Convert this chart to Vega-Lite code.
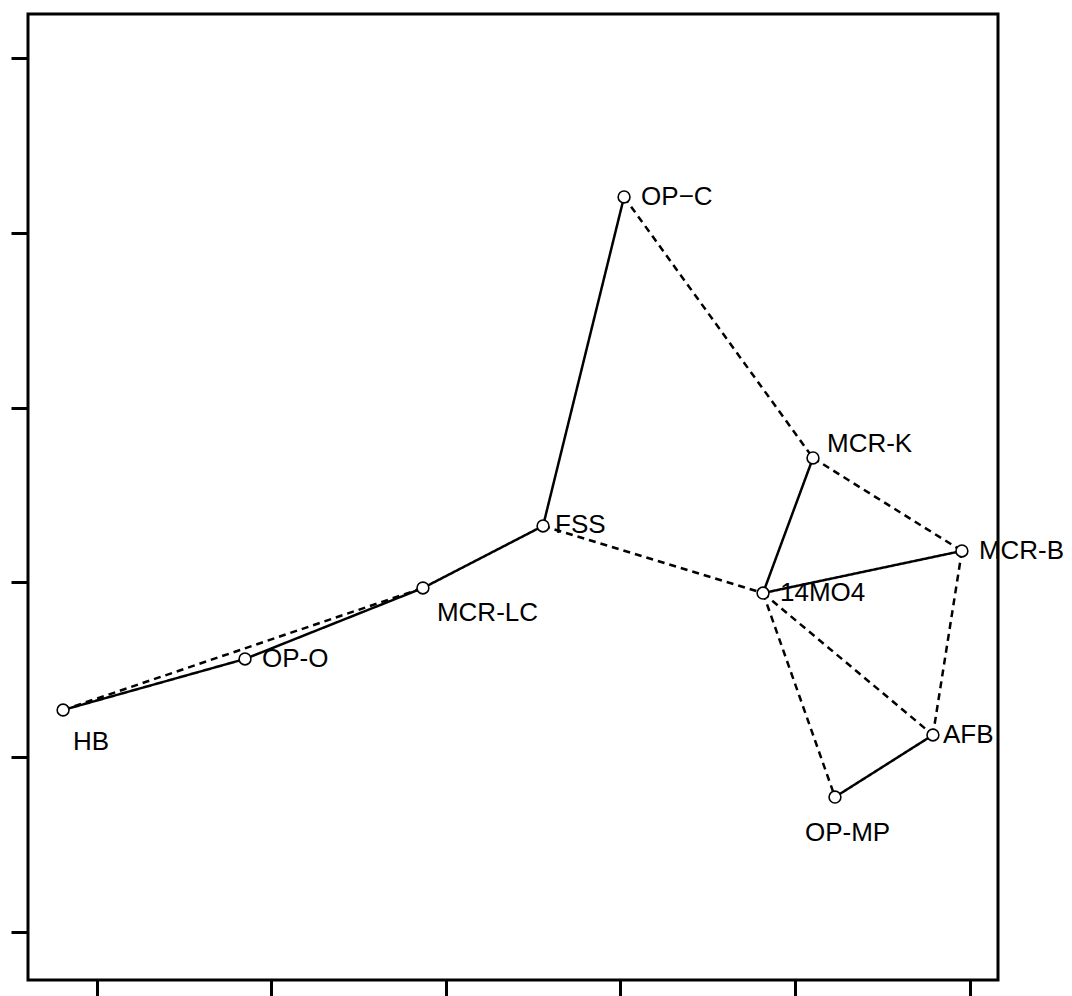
{
  "$schema": "https://vega.github.io/schema/vega-lite/v6.json",
  "width": 970,
  "height": 966,
  "autosize": {"type": "none"},
  "padding": {"left": 28, "top": 14, "right": 74, "bottom": 16},
  "background": "white",
  "config": {
    "view": {"stroke": "black", "strokeWidth": 3},
    "axis": {"grid": false, "domain": false, "labels": false, "title": null, "tickColor": "black", "tickWidth": 3, "tickSize": 17},
    "text": {"font": "Liberation Sans", "fontSize": 26, "color": "black", "baseline": "alphabetic", "align": "left"}
  },
  "datasets": {
    "nodes": [
      {"name": "HB", "x": 0.808, "y": 2.270},
      {"name": "OP-O", "x": 1.850, "y": 2.562},
      {"name": "MCR-LC", "x": 2.869, "y": 2.968},
      {"name": "FSS", "x": 3.557, "y": 3.323},
      {"name": "OP−C", "x": 4.021, "y": 5.205},
      {"name": "MCR-K", "x": 5.103, "y": 3.712},
      {"name": "MCR-B", "x": 5.956, "y": 3.180},
      {"name": "14MO4", "x": 4.817, "y": 2.939},
      {"name": "AFB", "x": 5.790, "y": 2.127},
      {"name": "OP-MP", "x": 5.229, "y": 1.772}
    ],
    "edges": [
      {"from": "HB", "to": "OP-O", "type": "solid"},
      {"from": "OP-O", "to": "MCR-LC", "type": "solid"},
      {"from": "MCR-LC", "to": "FSS", "type": "solid"},
      {"from": "FSS", "to": "OP−C", "type": "solid"},
      {"from": "MCR-K", "to": "14MO4", "type": "solid"},
      {"from": "14MO4", "to": "MCR-B", "type": "solid"},
      {"from": "OP-MP", "to": "AFB", "type": "solid"},
      {"from": "HB", "to": "MCR-LC", "type": "dashed"},
      {"from": "OP−C", "to": "MCR-K", "type": "dashed"},
      {"from": "MCR-K", "to": "MCR-B", "type": "dashed"},
      {"from": "FSS", "to": "14MO4", "type": "dashed"},
      {"from": "14MO4", "to": "AFB", "type": "dashed"},
      {"from": "14MO4", "to": "OP-MP", "type": "dashed"},
      {"from": "MCR-B", "to": "AFB", "type": "dashed"}
    ]
  },
  "layer": [
    {
      "data": {"name": "edges"},
      "transform": [
        {"lookup": "from", "from": {"data": {"values": [
          {"name": "HB", "x": 0.808, "y": 2.270},
          {"name": "OP-O", "x": 1.850, "y": 2.562},
          {"name": "MCR-LC", "x": 2.869, "y": 2.968},
          {"name": "FSS", "x": 3.557, "y": 3.323},
          {"name": "OP−C", "x": 4.021, "y": 5.205},
          {"name": "MCR-K", "x": 5.103, "y": 3.712},
          {"name": "MCR-B", "x": 5.956, "y": 3.180},
          {"name": "14MO4", "x": 4.817, "y": 2.939},
          {"name": "AFB", "x": 5.790, "y": 2.127},
          {"name": "OP-MP", "x": 5.229, "y": 1.772}
        ]}, "key": "name", "fields": ["x", "y"]}, "as": ["x1", "y1"]},
        {"lookup": "to", "from": {"data": {"values": [
          {"name": "HB", "x": 0.808, "y": 2.270},
          {"name": "OP-O", "x": 1.850, "y": 2.562},
          {"name": "MCR-LC", "x": 2.869, "y": 2.968},
          {"name": "FSS", "x": 3.557, "y": 3.323},
          {"name": "OP−C", "x": 4.021, "y": 5.205},
          {"name": "MCR-K", "x": 5.103, "y": 3.712},
          {"name": "MCR-B", "x": 5.956, "y": 3.180},
          {"name": "14MO4", "x": 4.817, "y": 2.939},
          {"name": "AFB", "x": 5.790, "y": 2.127},
          {"name": "OP-MP", "x": 5.229, "y": 1.772}
        ]}, "key": "name", "fields": ["x", "y"]}, "as": ["x2", "y2"]}
      ],
      "mark": {"type": "rule", "color": "black", "strokeWidth": 2.5},
      "encoding": {
        "x": {"field": "x1", "type": "quantitative", "scale": {"domain": [0.6071, 6.1627], "nice": false, "zero": false}, "axis": {"values": [1, 2, 3, 4, 5, 6], "orient": "bottom", "tickSize": 20}},
        "y": {"field": "y1", "type": "quantitative", "scale": {"domain": [0.7254, 6.2517], "nice": false, "zero": false}, "axis": {"values": [1, 2, 3, 4, 5, 6], "orient": "left"}},
        "x2": {"field": "x2"},
        "y2": {"field": "y2"},
        "strokeDash": {"field": "type", "type": "nominal", "scale": {"domain": ["solid", "dashed"], "range": [[1, 0], [7, 5]]}, "legend": null}
      }
    },
    {
      "data": {"name": "nodes"},
      "mark": {"type": "point", "shape": "circle", "filled": true, "fill": "white", "stroke": "black", "strokeWidth": 1.6, "size": 140, "opacity": 1},
      "encoding": {
        "x": {"field": "x", "type": "quantitative"},
        "y": {"field": "y", "type": "quantitative"}
      }
    },
    {
      "data": {"name": "nodes"},
      "transform": [{"filter": {"field": "name", "oneOf": ["OP−C", "MCR-B", "14MO4", "OP-O"]}}],
      "mark": {"type": "text", "dx": 17, "dy": 8},
      "encoding": {"x": {"field": "x", "type": "quantitative"}, "y": {"field": "y", "type": "quantitative"}, "text": {"field": "name"}}
    },
    {
      "data": {"name": "nodes"},
      "transform": [{"filter": {"field": "name", "oneOf": ["FSS"]}}],
      "mark": {"type": "text", "dx": 12, "dy": 7},
      "encoding": {"x": {"field": "x", "type": "quantitative"}, "y": {"field": "y", "type": "quantitative"}, "text": {"field": "name"}}
    },
    {
      "data": {"name": "nodes"},
      "transform": [{"filter": {"field": "name", "oneOf": ["AFB"]}}],
      "mark": {"type": "text", "dx": 10, "dy": 8},
      "encoding": {"x": {"field": "x", "type": "quantitative"}, "y": {"field": "y", "type": "quantitative"}, "text": {"field": "name"}}
    },
    {
      "data": {"name": "nodes"},
      "transform": [{"filter": {"field": "name", "oneOf": ["MCR-K"]}}],
      "mark": {"type": "text", "dx": 14, "dy": -6},
      "encoding": {"x": {"field": "x", "type": "quantitative"}, "y": {"field": "y", "type": "quantitative"}, "text": {"field": "name"}}
    },
    {
      "data": {"name": "nodes"},
      "transform": [{"filter": {"field": "name", "oneOf": ["MCR-LC"]}}],
      "mark": {"type": "text", "dx": 14, "dy": 33},
      "encoding": {"x": {"field": "x", "type": "quantitative"}, "y": {"field": "y", "type": "quantitative"}, "text": {"field": "name"}}
    },
    {
      "data": {"name": "nodes"},
      "transform": [{"filter": {"field": "name", "oneOf": ["HB"]}}],
      "mark": {"type": "text", "dx": 10, "dy": 40},
      "encoding": {"x": {"field": "x", "type": "quantitative"}, "y": {"field": "y", "type": "quantitative"}, "text": {"field": "name"}}
    },
    {
      "data": {"name": "nodes"},
      "transform": [{"filter": {"field": "name", "oneOf": ["OP-MP"]}}],
      "mark": {"type": "text", "dx": -30, "dy": 44},
      "encoding": {"x": {"field": "x", "type": "quantitative"}, "y": {"field": "y", "type": "quantitative"}, "text": {"field": "name"}}
    }
  ]
}
